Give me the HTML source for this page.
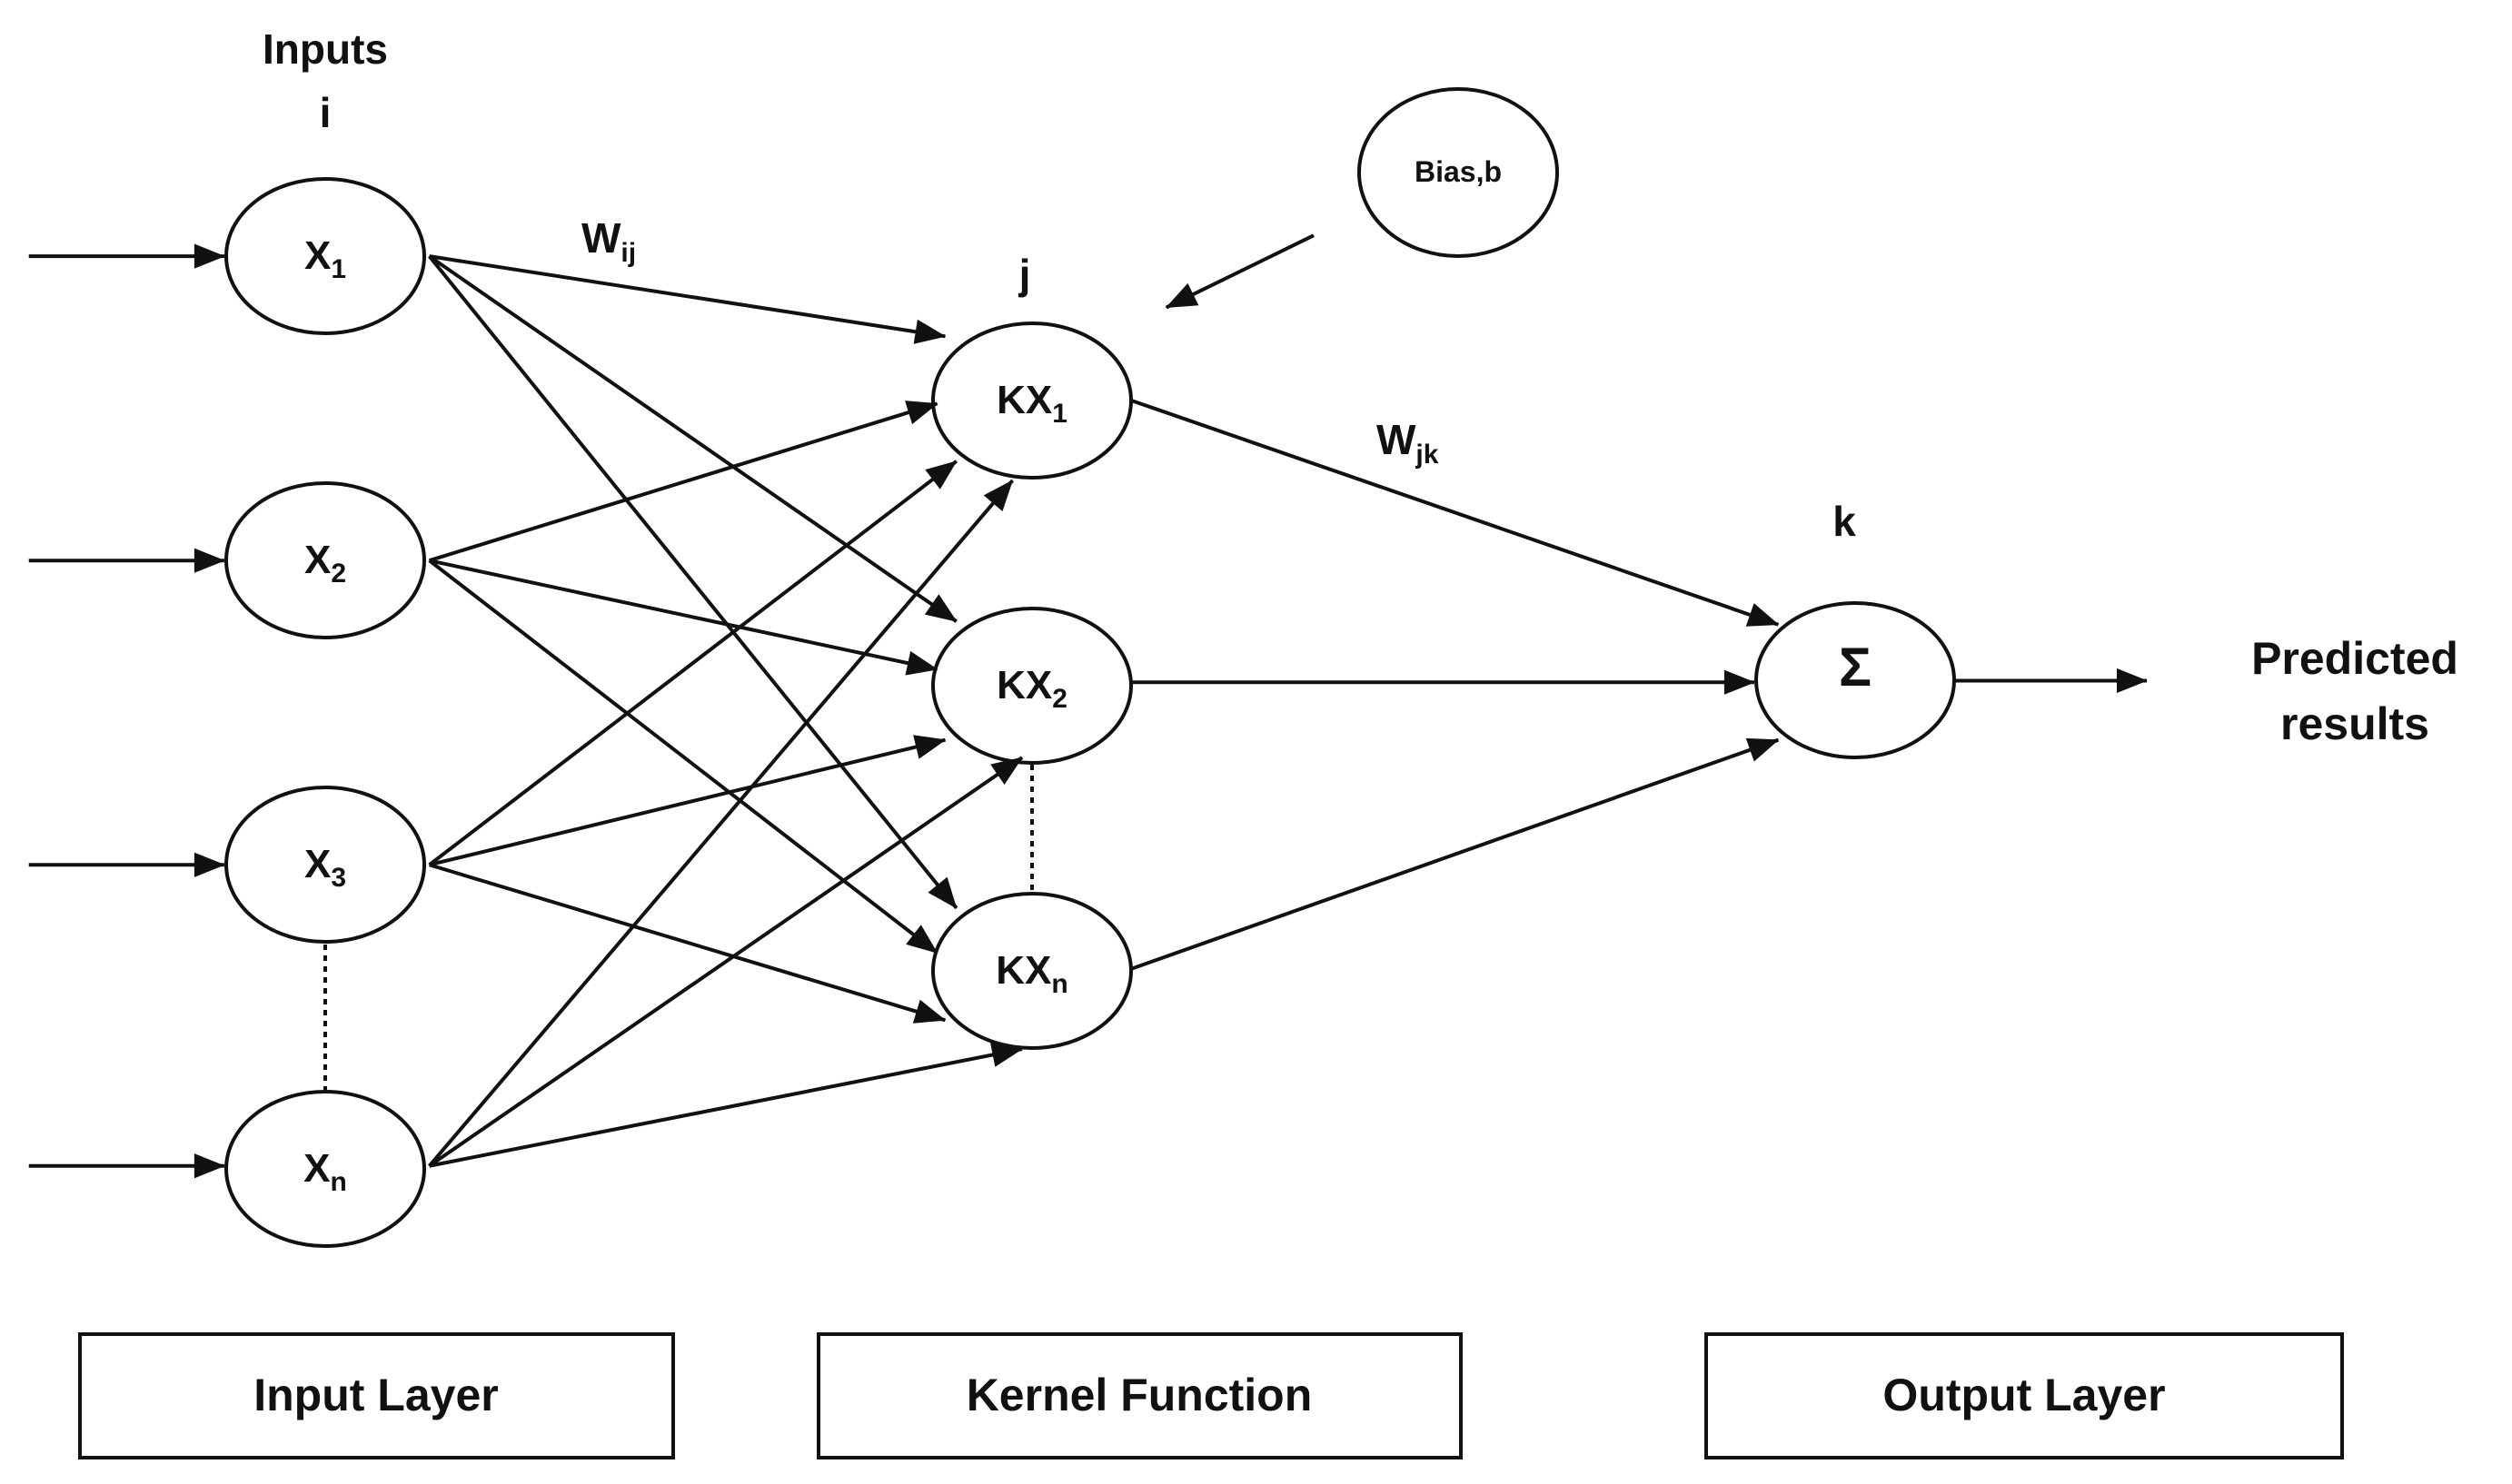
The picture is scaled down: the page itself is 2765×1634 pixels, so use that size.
<!DOCTYPE html>
<html><head><meta charset="utf-8"><style>
html,body{margin:0;padding:0;background:#fff;}
svg{display:block;}
text{font-family:"Liberation Sans",sans-serif;font-weight:bold;fill:#111;}
</style></head><body>
<svg id="s" width="2765" height="1634" viewBox="0 0 2765 1634" xmlns="http://www.w3.org/2000/svg">
<defs><marker id="a" markerWidth="10" markerHeight="8" refX="9" refY="4" orient="auto" markerUnits="userSpaceOnUse" viewBox="0 0 10 8" style="overflow:visible"><path d="M0,0 L10,4 L0,8 z" fill="#111" transform="scale(3.4)" transform-origin="10 4"/></marker></defs>
<g id="g" stroke="#111" stroke-width="4" fill="none"></g>
<g font-size="46">
<text x="358" y="70" text-anchor="middle">Inputs</text>
<text x="358" y="140" text-anchor="middle">i</text>
<text x="640" y="278">W<tspan font-size="30" dy="10">ij</tspan></text>
<text x="1128" y="318" text-anchor="middle" font-weight="normal">j</text>
<text x="1515" y="500">W<tspan font-size="30" dy="10">jk</tspan></text>
<text x="2030" y="590" text-anchor="middle">k</text>
<text x="2592" y="742" text-anchor="middle" font-size="50">Predicted</text>
<text x="2592" y="814" text-anchor="middle" font-size="50">results</text>
<text x="1605" y="200" text-anchor="middle" font-size="32">Bias,b</text>
<text x="414" y="1553" text-anchor="middle" font-size="50">Input Layer</text>
<text x="1254" y="1553" text-anchor="middle" font-size="50">Kernel Function</text>
<text x="2228" y="1553" text-anchor="middle" font-size="50">Output Layer</text>
</g>
<g stroke="#111" stroke-width="4" fill="none">
<rect x="88" y="1469" width="653" height="136"/>
<rect x="901" y="1469" width="707" height="136"/>
<rect x="1878" y="1469" width="700" height="136"/>
</g>
</svg>
<script>
var g=document.getElementById('g'),s=document.getElementById('s'),NS='http://www.w3.org/2000/svg',K=1.7634;
function el(t,a,p){var e=document.createElementNS(NS,t);for(var k in a)e.setAttribute(k,a[k]);(p||g).appendChild(e);return e;}
var RX=109,RY=85;
function ln(x1,y1,x2,y2,arr){var a={x1:x1*K,y1:y1*K,x2:x2*K,y2:y2*K};if(arr)a['marker-end']='url(#a)';el('line',a);}
var iy=[160,350,540,728];
var ends=[[[590,210],[597,388],[597,567]],[[585,252],[585,418],[585,595]],[[597,288],[590,462],[590,637]],[[632,300],[638,473],[638,655]]];
iy.forEach(function(y,i){
 el('ellipse',{cx:358,cy:[282,617,952,1287][i],rx:RX,ry:RY});
 ln(18,y,140,y,1);
 ends[i].forEach(function(e){ln(268,y,e[0],e[1],1);});
});
[441,755,1069].forEach(function(ky){el('ellipse',{cx:1136,cy:ky,rx:RX,ry:RY});});
ln(706,250,1110,390,1);ln(706,426,1095,426,1);ln(706,605,1110,462,1);
el('ellipse',{cx:2042,cy:749,rx:RX,ry:RY});
el('ellipse',{cx:1605,cy:190,rx:109,ry:92});
ln(1220,425,1340,425,1);
ln(820,147,728,192,1);
el('line',{x1:358,y1:1040,x2:358,y2:1200,'stroke-dasharray':'6,6'});
el('line',{x1:1136,y1:842,x2:1136,y2:982,'stroke-dasharray':'6,6'});
var t=document.createElementNS(NS,'text');t.setAttribute('x',2042);t.setAttribute('y',755);t.setAttribute('text-anchor','middle');t.setAttribute('font-size','60');t.setAttribute('font-weight','normal');t.textContent='Σ';s.appendChild(t);
var labs=[['X','1',358,282],['X','2',358,617],['X','3',358,952],['X','n',358,1287],['KX','1',1136,441],['KX','2',1136,755],['KX','n',1136,1069]];
labs.forEach(function(l){var t=document.createElementNS(NS,'text');t.setAttribute('x',l[2]);t.setAttribute('y',l[3]+14);t.setAttribute('text-anchor','middle');t.setAttribute('font-size','44');t.innerHTML=l[0]+'<tspan font-size="30" dy="10">'+l[1]+'</tspan>';s.appendChild(t);});
</script>
</body></html>
